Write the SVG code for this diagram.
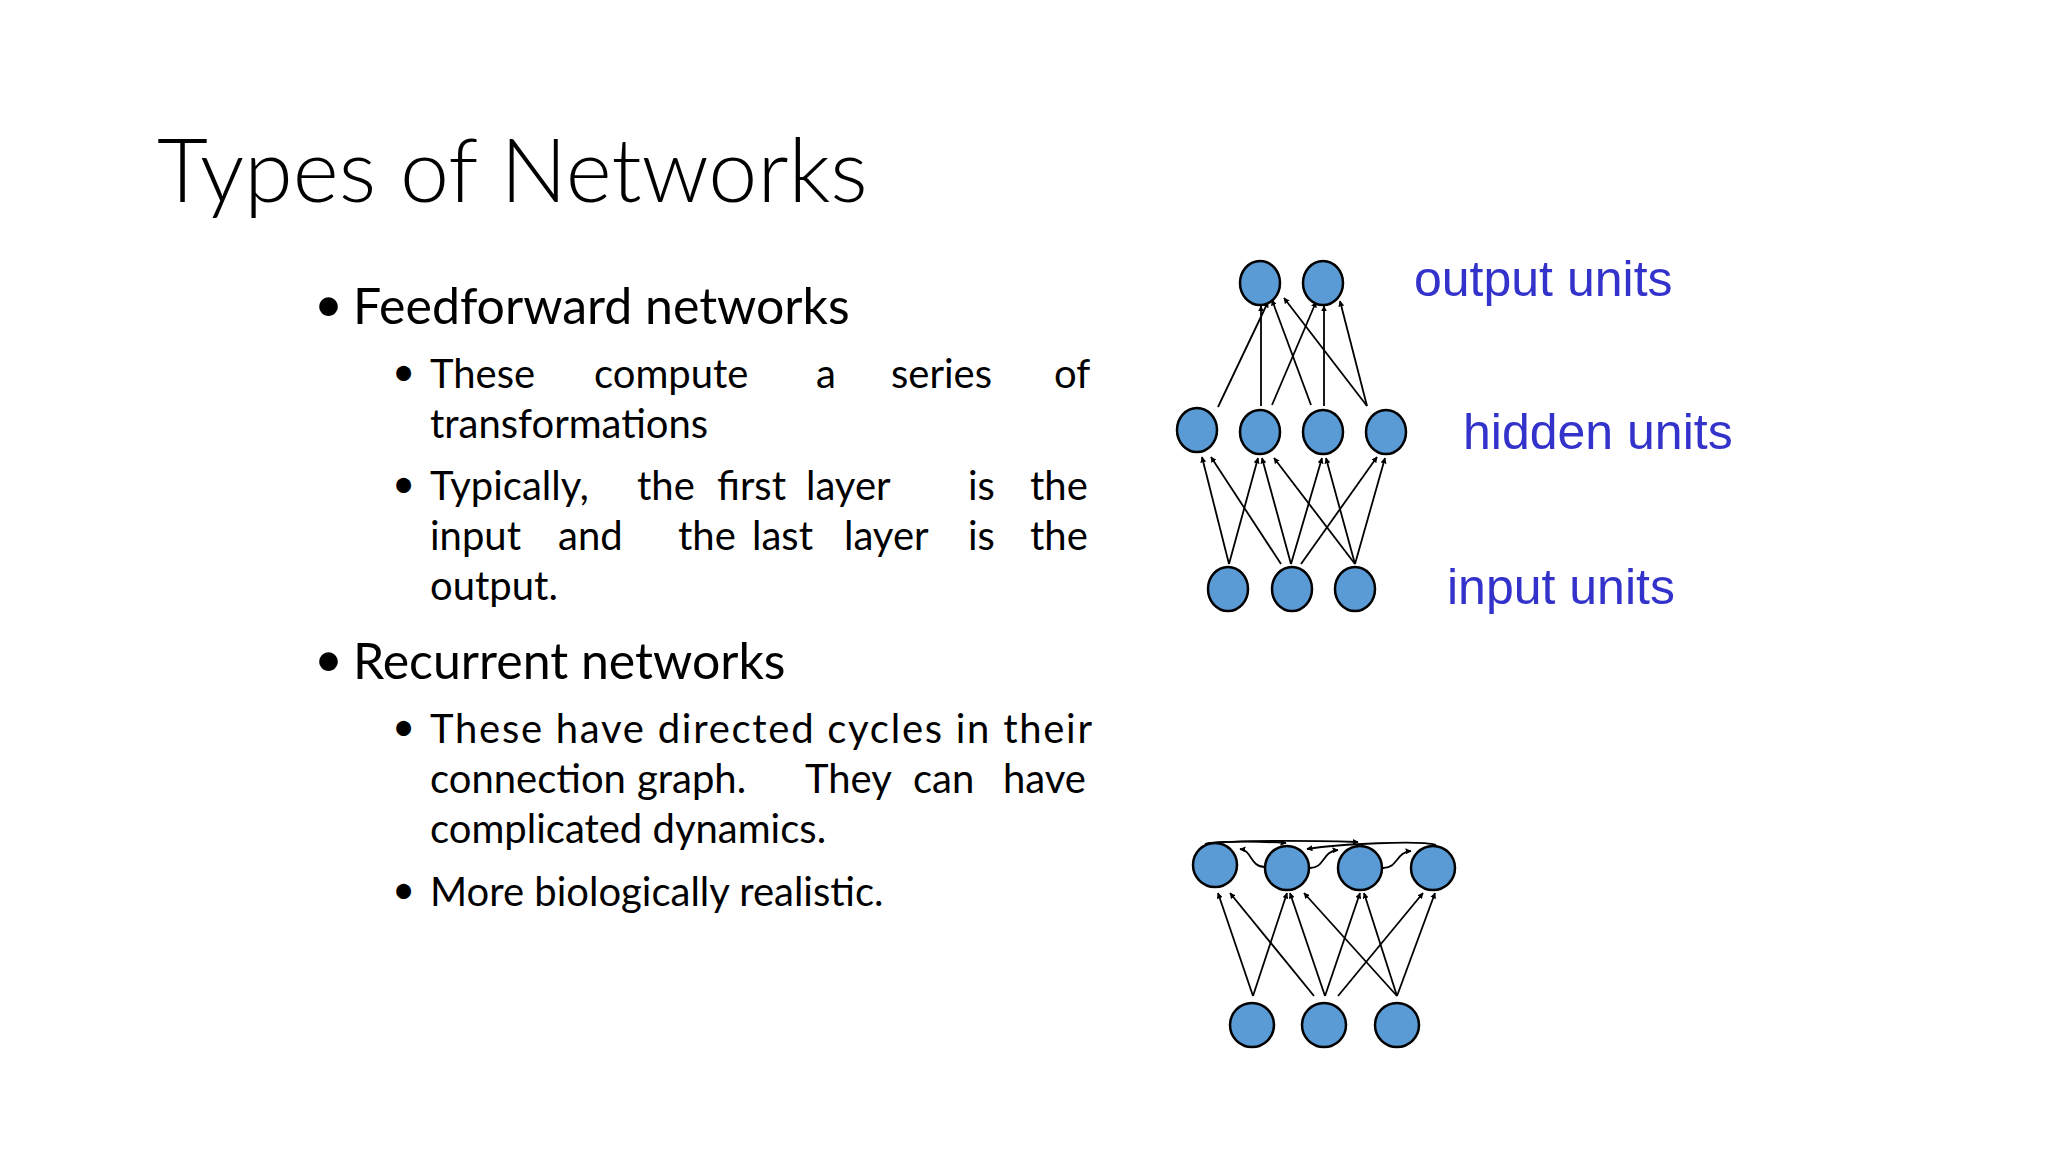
<svg xmlns="http://www.w3.org/2000/svg" width="2048" height="1152" viewBox="0 0 2048 1152">
<defs>
<marker id="ah" viewBox="0 0 10 10" refX="9" refY="5" markerWidth="6" markerHeight="6" markerUnits="userSpaceOnUse" orient="auto"><path d="M0,0 L10,5 L0,10 z" fill="#000"/></marker>
<style>
.t{font-family:Lato,"Open Sans",sans-serif;fill:#000}
.h{font-size:88px;font-weight:300}
.b1{font-size:50px}
.b2{font-size:40px}
.lab{font-family:"Liberation Sans",Arial,sans-serif;font-size:50px;fill:#3333cc}
.n{fill:#5b9bd5;stroke:#000;stroke-width:2.5}
.e{stroke:#000;stroke-width:1.8;fill:none;marker-end:url(#ah)}
</style>
</defs>
<rect width="2048" height="1152" fill="#fff"/>
<g id="text">
<text class="t h" x="157" y="202">Types of Networks</text>
<text class="t b1" x="314" y="322">•</text><text class="t b1" x="353" y="324">Feedforward networks</text>
<g class="t b2">
<text x="392" y="386">•</text>
<text x="430" y="388">These</text><text x="594" y="388">compute</text><text x="816" y="388">a</text><text x="891" y="388">series</text><text x="1054" y="388">of</text>
<text x="430" y="438">transformations</text>
<text x="392" y="498">•</text>
<text x="430" y="500">Typically,</text><text x="637" y="500">the</text><text x="717" y="500">first</text><text x="806" y="500">layer</text><text x="968" y="500">is</text><text x="1030" y="500">the</text>
<text x="430" y="550">input</text><text x="558" y="550">and</text><text x="678" y="550">the</text><text x="752" y="550">last</text><text x="844" y="550">layer</text><text x="968" y="550">is</text><text x="1030" y="550">the</text>
<text x="430" y="600">output.</text>
</g>
<text class="t b1" x="314" y="677">•</text><text class="t b1" x="353" y="679">Recurrent networks</text>
<g class="t b2">
<text x="392" y="741">•</text>
<text x="430" y="743" textLength="662" lengthAdjust="spacing">These have directed cycles in their</text>
<text x="430" y="793">connection</text><text x="637" y="793">graph.</text><text x="805" y="793">They</text><text x="913" y="793">can</text><text x="1003" y="793">have</text>
<text x="430" y="843">complicated dynamics.</text>
<text x="392" y="904">•</text>
<text x="430" y="906">More biologically realistic.</text>
</g>
</g>
<g id="labels">
<text class="lab" x="1414" y="296">output units</text>
<text class="lab" x="1463" y="449">hidden units</text>
<text class="lab" x="1447" y="604">input units</text>
</g>
<g id="connectors">
<line class="e" x1="1218" y1="407" x2="1268" y2="302"/>
<line class="e" x1="1261" y1="406" x2="1261" y2="306"/>
<line class="e" x1="1272" y1="405" x2="1316" y2="302"/>
<line class="e" x1="1311" y1="405" x2="1272" y2="300"/>
<line class="e" x1="1324" y1="406" x2="1324" y2="306"/>
<line class="e" x1="1367" y1="406" x2="1284" y2="298"/>
<line class="e" x1="1367" y1="406" x2="1340" y2="301"/>
<line class="e" x1="1229" y1="564" x2="1202" y2="457"/>
<line class="e" x1="1229" y1="564" x2="1258" y2="458"/>
<line class="e" x1="1281" y1="564" x2="1211" y2="457"/>
<line class="e" x1="1291" y1="564" x2="1262" y2="458"/>
<line class="e" x1="1291" y1="564" x2="1322" y2="458"/>
<line class="e" x1="1301" y1="564" x2="1377" y2="457"/>
<line class="e" x1="1355" y1="564" x2="1274" y2="458"/>
<line class="e" x1="1355" y1="564" x2="1326" y2="458"/>
<line class="e" x1="1355" y1="564" x2="1385" y2="458"/>

<line class="e" x1="1253" y1="996" x2="1218" y2="893"/>
<line class="e" x1="1253" y1="996" x2="1287" y2="893"/>
<line class="e" x1="1314" y1="996" x2="1230" y2="893"/>
<line class="e" x1="1325" y1="996" x2="1290" y2="893"/>
<line class="e" x1="1325" y1="996" x2="1360" y2="893"/>
<line class="e" x1="1338" y1="996" x2="1423" y2="893"/>
<line class="e" x1="1397" y1="996" x2="1304" y2="893"/>
<line class="e" x1="1397" y1="996" x2="1364" y2="893"/>
<line class="e" x1="1397" y1="996" x2="1435" y2="893"/>
<path class="e" d="M1265,867 C1250,867 1252,850 1240,849"/>
<path class="e" d="M1310,868 C1325,868 1322,851 1338,850"/>
<path class="e" d="M1383,868 C1398,868 1396,852 1411,851"/>
<path class="e" d="M1205,844 C1220,840 1270,842 1286,843"/>
<path class="e" d="M1205,844 C1240,840 1320,841 1358,842"/>
<path class="e" d="M1436,845 C1420,840 1340,844 1307,849"/>
</g>
<g id="nodes">
<g id="o0"><ellipse class="n" cx="1260" cy="283" rx="20" ry="22"/></g>
<g id="o1"><ellipse class="n" cx="1323" cy="283" rx="20" ry="22"/></g>
<g id="h0"><ellipse class="n" cx="1197" cy="430" rx="20" ry="22"/></g>
<g id="h1"><ellipse class="n" cx="1260" cy="432" rx="20" ry="22"/></g>
<g id="h2"><ellipse class="n" cx="1323" cy="432" rx="20" ry="22"/></g>
<g id="h3"><ellipse class="n" cx="1386" cy="432" rx="20" ry="22"/></g>
<g id="i0"><ellipse class="n" cx="1228" cy="589" rx="20" ry="22"/></g>
<g id="i1"><ellipse class="n" cx="1292" cy="589" rx="20" ry="22"/></g>
<g id="i2"><ellipse class="n" cx="1355" cy="589" rx="20" ry="22"/></g>
<g id="r0"><ellipse class="n" cx="1215" cy="865" rx="22" ry="22"/></g>
<g id="r1"><ellipse class="n" cx="1287" cy="868" rx="22" ry="22"/></g>
<g id="r2"><ellipse class="n" cx="1360" cy="868" rx="22" ry="22"/></g>
<g id="r3"><ellipse class="n" cx="1433" cy="868" rx="22" ry="22"/></g>
<g id="ri0"><ellipse class="n" cx="1252" cy="1025" rx="22" ry="22"/></g>
<g id="ri1"><ellipse class="n" cx="1324" cy="1025" rx="22" ry="22"/></g>
<g id="ri2"><ellipse class="n" cx="1397" cy="1025" rx="22" ry="22"/></g>
</g>
</svg>
